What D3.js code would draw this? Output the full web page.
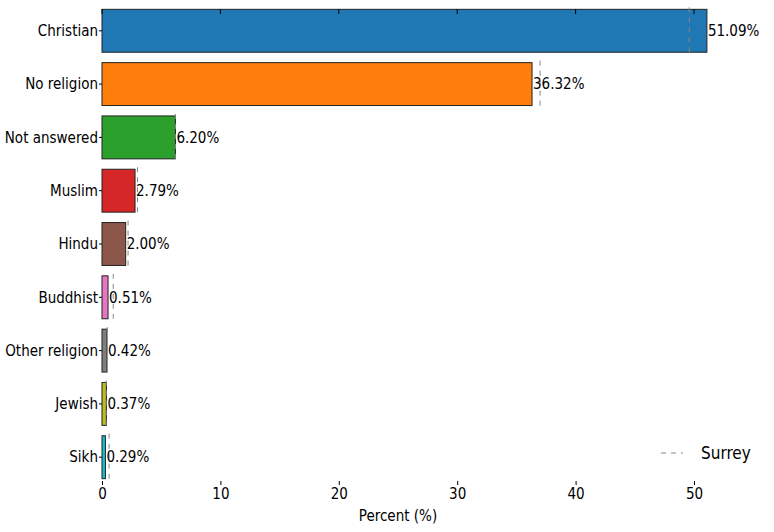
<!DOCTYPE html>
<html><head><meta charset="utf-8">
<script src="https://cdn.jsdelivr.net/npm/d3@7"></script>
<style>
body{margin:0;background:#fff;}
text{font-family:"Liberation Sans Narrow","DejaVu Sans Condensed","Roboto Condensed",sans-serif;}
</style></head><body>
<svg id="vis" width="774" height="532"></svg>
<script>
// data
const religions = ["Christian","No religion","Not answered","Muslim","Hindu","Buddhist","Other religion","Jewish","Sikh"];
const percents = [51.09,36.32,6.20,2.79,2.00,0.51,0.42,0.37,0.29];
const surrey = [49.6,37.0,6.2,3.0,2.2,0.95,0.45,0.35,0.6];
const colors = ["#1f77b4","#ff7f0e","#2ca02c","#d62728","#8c564b","#e377c2","#7f7f7f","#bcbd22","#17becf"];
const xTicks = [0,10,20,30,40,50];

const svg = d3.select("#vis");
const x = d3.scaleLinear().domain([0,50]).range([102,694]);
const y = d3.scaleBand().domain(religions).range([4,484]).paddingInner(0.195).paddingOuter(0.1);
const rows = religions.map((r,i) => ({r, v:percents[i], s:surrey[i], c:colors[i]}));

svg.selectAll("rect.bar").data(rows).join("rect")
  .attr("x", x(0)).attr("y", d => y(d.r))
  .attr("width", d => x(d.v)-x(0)).attr("height", y.bandwidth())
  .attr("fill", d => d.c).attr("stroke", "#222").attr("stroke-width", 1);

svg.selectAll("line.surrey").data(rows).join("line")
  .attr("x1", d => x(d.s)).attr("x2", d => x(d.s))
  .attr("y1", d => y(d.r)-2).attr("y2", d => y(d.r)+y.bandwidth()+2)
  .attr("stroke", "#888").attr("stroke-width", 1).attr("stroke-dasharray", "5,5");

svg.selectAll("text.val").data(rows).join("text")
  .attr("x", d => x(d.v)+1).attr("y", d => y(d.r)+y.bandwidth()/2)
  .attr("dy", "0.35em").attr("font-size", 15).text(d => d.v.toFixed(2)+"%");

// category labels
svg.selectAll("text.cat").data(rows).join("text")
  .attr("x", 98).attr("y", d => y(d.r)+y.bandwidth()/2)
  .attr("dy", "0.35em").attr("text-anchor", "end").attr("font-size", 15).text(d => d.r);
svg.selectAll("line.ytick").data(rows).join("line")
  .attr("x1", 99).attr("x2", 102)
  .attr("y1", d => y(d.r)+y.bandwidth()/2).attr("y2", d => y(d.r)+y.bandwidth()/2)
  .attr("stroke", "#000");

// bottom axis
const xa = svg.append("g").attr("transform", "translate(0,481)")
  .call(d3.axisBottom(x).tickValues(xTicks).tickSize(4).tickPadding(3));
xa.select(".domain").remove();
xa.selectAll("text").attr("font-size", 15).attr("font-family", null);
// top inner ticks
svg.selectAll("line.top").data(xTicks).join("line")
  .attr("x1", d => x(d)).attr("x2", d => x(d)).attr("y1", 9).attr("y2", 14)
  .attr("stroke", "#000");

svg.append("text").attr("x", 398).attr("y", 521).attr("text-anchor", "middle")
  .attr("font-size", 15).text("Percent (%)");

// legend
svg.append("line").attr("x1", 661).attr("x2", 683).attr("y1", 453).attr("y2", 453)
  .attr("stroke", "#888").attr("stroke-dasharray", "5,5");
svg.append("text").attr("x", 701).attr("y", 453).attr("dy", "0.35em")
  .attr("font-size", 17).text("Surrey");
</script></body></html>
